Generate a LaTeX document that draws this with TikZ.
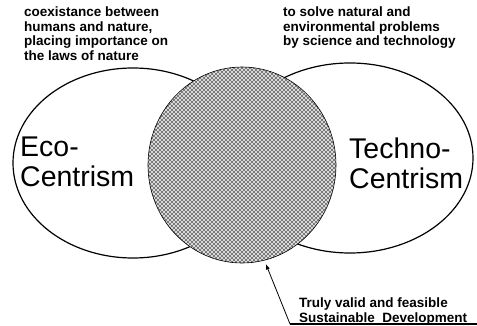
\documentclass[tikz,border=0pt]{standalone}
\usepackage{fontspec}
\setmainfont{Liberation Sans}
\usetikzlibrary{shapes, arrows, patterns}

\pgfdeclarepatternformonly{coarse dots}{\pgfqpoint{-1pt}{-1pt}}{\pgfqpoint{5pt}{5pt}}{\pgfqpoint{4pt}{4pt}}{
	\pgfpathcircle{\pgfqpoint{0pt}{0pt}}{.95pt}
	\pgfpathcircle{\pgfqpoint{2pt}{2pt}}{.95pt}
	\pgfusepath{fill}
}

\begin{document}
\begin{tikzpicture}[x=1pt, y=-1pt,
		centrism/.style={ellipse, draw, line width=1.2pt, minimum height=190pt},
		label/.style={anchor=north west, align=left, inner sep=0, font=\fontsize{28.5}{29.5}\selectfont},
		note/.style={anchor=north west, align=left, inner sep=0, font=\bfseries\fontsize{13.5}{14.4}\selectfont}]
		\useasboundingbox (0,0) rectangle (477,326);
		\node at (133,163) [centrism, minimum width=240pt] (Eco) {};
		\node at (350,158) [centrism, minimum width=246pt] (Techno) {};
		\node at (242,165) [ellipse, draw, line width=.6pt, minimum width=188pt, minimum height=196pt, inner sep=0, outer sep=0, preaction={fill=gray!30}, pattern=coarse dots, pattern color=black!90] (SD) {};
		\node at (20,137) [label] (eco label) {Eco-\\Centrism};
		\node at (349,138) [label] (techno label) {Techno-\\Centrism};
		\node at (24,7) [note] (eco note) {coexistance between\\humans and nature,\\placing importance on\\the laws of nature};
		\node at (283,7) [note] (techno note) {to solve natural and\\environmental problems\\by science and technology};
		\node at (299,298) [note] (sd note) {Truly valid and feasible\\Sustainable\ \ Development};
		\coordinate (lead) at (290,324);
		\coordinate (lead end) at (477,324);
		\draw[line width=1.4pt] (lead end) -- (lead);
		\draw[-latex, line width=.8pt] (lead) -- ([shift={(2pt,-4pt)}]SD.-77);
\end{tikzpicture}
\end{document}
